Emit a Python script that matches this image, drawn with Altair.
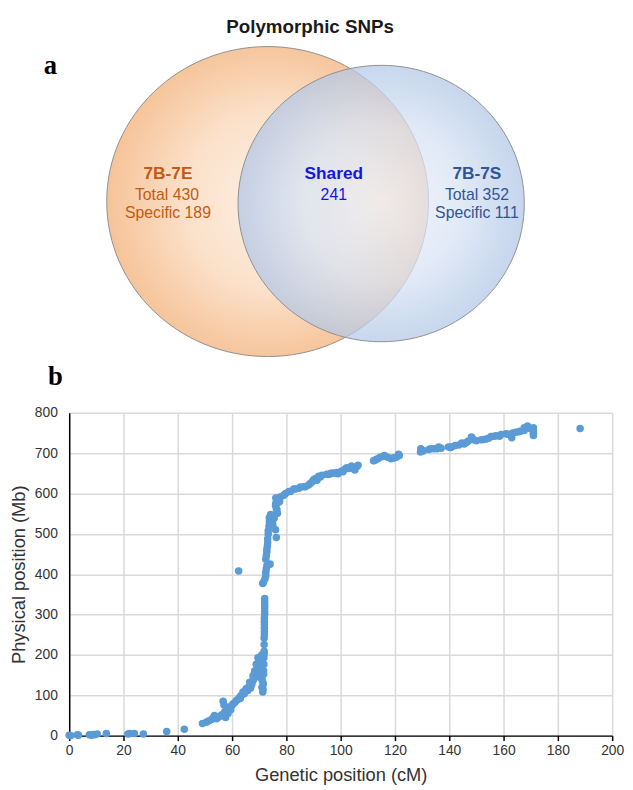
import altair as alt
import pandas as pd

# ---------------- data: scatter (genetic vs physical position) ----------------
gen_cm = [0, 0.5, 3.4, 3.0, 7.4, 8.2, 8.8, 9.4, 10.3, 13.7, 21.6, 22.3, 24, 27.3, 35.9, 42.4,
          49.1, 50.5, 51.3, 52.4, 53.1, 53.5, 54.3, 55.0, 55.5, 56.2, 56.7, 57.0, 57.3, 57.6, 58.0,
          58.5, 59.1, 59.5, 60.0, 60.4, 61.0, 61.6, 62.2, 62.8, 63.4, 64.0, 64.5, 65.2, 65.8, 66.5,
          67.0, 67.3, 67.7, 68.0, 68.3, 68.6, 68.9, 69.2, 69.5, 69.8, 70.1, 70.4, 70.7, 70.9, 71.0,
          71.3, 71.5, 71.6, 71.6, 71.7, 71.7, 71.8, 71.8, 71.8, 71.8, 71.9, 71.9, 71.9, 71.9, 71.9,
          71.9, 72.0, 72.0, 72.0, 72.0, 72.0, 72.0, 71.3, 71.6, 72.1, 72.4, 72.4, 72.6, 72.8, 74.0,
          72.4, 72.6, 72.8, 72.8, 73.0, 73.1, 73.1, 73.3, 73.3, 73.6, 73.7, 73.7, 74.9, 75.5, 76.3,
          76.0, 75.0, 76.7, 76.3, 76.0, 76.1, 76.1, 76.7, 77.9, 77.5, 79.1, 79.7, 80.9, 81.5, 82.7,
          83.4, 84.6, 85.2, 86.4, 87.0, 88.2, 89.5, 90.0, 90.7, 91.3, 91.9, 93.1, 94.9, 96.1, 96.7,
          98.5, 99.0, 100.3, 101.5, 102.2, 103.0, 104.0, 105.2, 105.8, 106.4, 112.1, 112.4, 113.7,
          115.5, 116.1, 117.3, 118.5, 119.2, 119.7, 120.5, 121.3, 121.6, 129.4, 129.5, 129.8, 132.5,
          133.1, 134.3, 135.5, 136.1, 139.7, 140.5, 142.2, 143.5, 144.6, 145.5, 146.4, 148.2, 148.2,
          149.0, 150.0, 151.8, 153.6, 154.5, 155.4, 157.3, 158.5, 159.1, 160.9, 162.0, 163.0, 163.4,
          164.5, 166.0, 167.6, 167.6, 168.8, 169.5, 170.2, 171.0, 171.0, 171.0, 171.0, 188.2,
          63.0, 64.8, 66.0, 66.8, 67.5, 68.2, 69.0, 69.6, 70.3, 70.5, 71.2, 71.4, 71.0,
          74.5, 75.2, 76.5, 77.0, 74.2,
          88.8, 92.5, 95.5, 97.5, 100.8, 103.5, 113.0, 114.5, 130.5, 137.0, 141.0, 147.0,
          152.5, 156.5, 161.5, 165.5, 169.0]
phys_mb = [1, 0, 1, 2, 2, 1, 3, 2, 4, 5, 4, 5, 5, 4, 10, 16,
           30, 33, 36, 40, 44, 50, 42, 46, 48, 52, 85, 76, 59, 45, 62,
           55, 71, 64, 75, 79, 82, 87, 90, 95, 100, 108, 104, 116, 112, 132,
           125, 128, 148, 140, 160, 150, 177, 168, 193, 182, 185, 144, 169, 200, 120,
           108, 128, 152, 161, 177, 193, 202, 209, 226, 242, 250, 258, 266, 275, 283,
           291, 300, 307, 316, 324, 332, 340, 377, 381, 389, 396, 405, 413, 421, 425,
           437, 446, 455, 462, 470, 478, 487, 499, 508, 519, 530, 540, 527, 539, 491,
           510, 520, 551, 562, 570, 576, 589, 588, 592, 580, 596, 600, 605, 605, 611,
           611, 613, 616, 617, 617, 621, 629, 634, 637, 633, 643, 645, 648, 649, 651,
           652, 649, 656, 660, 664, 662, 668, 658, 666, 670, 681, 682, 686,
           692, 694, 690, 686, 688, 688, 690, 697, 694, 703, 711, 706, 709,
           711, 711, 711, 715, 715, 714, 719, 720, 725, 723, 727, 740, 735,
           733, 731, 733, 735, 737, 741, 743, 742, 746, 748, 746, 738, 750,
           752, 754, 756, 763, 767, 762, 760, 763, 755, 748, 744, 761,
           92, 110, 120, 118, 135, 152, 160, 175, 160, 190, 135, 115, 145,
           535, 545, 560, 578, 548,
           625, 641, 647, 650, 654, 663, 684, 690, 706, 712, 716, 730,
           734, 742, 747, 753, 764]
outlier_cm = [62.4]
outlier_mb = [408]

x_ticks = [0, 20, 40, 60, 80, 100, 120, 140, 160, 180, 200]
y_ticks = [0, 100, 200, 300, 400, 500, 600, 700, 800]

# ---------------- data: Venn diagram ----------------
set_names = ["7B-7E", "Shared", "7B-7S"]
set_totals = ["Total 430", "241", "Total 352"]
set_specific = ["Specific 189", "Specific 111"]
set_colors = ["#C55A11", "#1414E6", "#2F5597"]

# ellipse layout (page pixel units)
ell_cx = [270, 385]
ell_cy = [198, 200]
ell_rx = [163, 145]
ell_ry = [157, 140]

FONT = "Liberation Sans"


def ellipse_path(rx, ry):
    s = max(rx, ry)
    a, b = rx / s, ry / s
    return (f"M {-a:.4f} 0 A {a:.4f} {b:.4f} 0 1 1 {a:.4f} 0 "
            f"A {a:.4f} {b:.4f} 0 1 1 {-a:.4f} 0 Z")


xs = alt.Scale(domain=[69, 619], nice=False, zero=False)
ys = alt.Scale(domain=[8, 412], nice=False, zero=False, reverse=True)

orange_grad = alt.RadialGradient(
    gradient="radial",
    stops=[alt.GradientStop(color="#FDF1E6", offset=0),
           alt.GradientStop(color="#FBE1CA", offset=0.55),
           alt.GradientStop(color="#F6C398", offset=1)],
    x1=0.55, y1=0.5, r1=0, x2=0.5, y2=0.5, r2=0.5)
blue_grad = alt.RadialGradient(
    gradient="radial",
    stops=[alt.GradientStop(color="#ECF1F9", offset=0),
           alt.GradientStop(color="#D6E2F3", offset=0.55),
           alt.GradientStop(color="#AFC5E6", offset=1)],
    x1=0.5, y1=0.5, r1=0, x2=0.5, y2=0.5, r2=0.5)

left_df = pd.DataFrame({"x": [ell_cx[0]], "y": [ell_cy[0]]})
right_df = pd.DataFrame({"x": [ell_cx[1]], "y": [ell_cy[1]]})

left_ell = alt.Chart(left_df).mark_point(
    shape=ellipse_path(ell_rx[0], ell_ry[0]), size=(2 * max(ell_rx[0], ell_ry[0])) ** 2,
    filled=True, fill=orange_grad, stroke="#8F8F8F", strokeWidth=1, opacity=1
).encode(x=alt.X("x:Q", scale=xs, axis=None), y=alt.Y("y:Q", scale=ys, axis=None))

right_ell = alt.Chart(right_df).mark_point(
    shape=ellipse_path(ell_rx[1], ell_ry[1]), size=(2 * max(ell_rx[1], ell_ry[1])) ** 2,
    filled=True, fill=blue_grad, fillOpacity=0.72, stroke="#8F8F8F", strokeWidth=1, opacity=1
).encode(x=alt.X("x:Q", scale=xs, axis=None), y=alt.Y("y:Q", scale=ys, axis=None))

head_df = pd.DataFrame({"t": set_names, "x": [169, 337, 482], "y": [170, 170, 170],
                        "c": set_colors})
heads = alt.Chart(head_df).mark_text(font=FONT, fontSize=17.5, fontWeight="bold",
                                     baseline="middle", align="center").encode(
    x=alt.X("x:Q", scale=xs, axis=None), y=alt.Y("y:Q", scale=ys, axis=None),
    text="t:N", color=alt.Color("c:N", scale=None))

sub_df = pd.DataFrame({
    "t": [set_totals[0], set_specific[0], set_totals[1], set_totals[2], set_specific[1]],
    "x": [168, 169, 337, 482, 482],
    "y": [191, 210, 191, 191, 210],
    "c": [set_colors[0], set_colors[0], set_colors[1], set_colors[2], set_colors[2]]})
subs = alt.Chart(sub_df).mark_text(font=FONT, fontSize=16, baseline="middle",
                                   align="center").encode(
    x=alt.X("x:Q", scale=xs, axis=None), y=alt.Y("y:Q", scale=ys, axis=None),
    text="t:N", color=alt.Color("c:N", scale=None))

title_df = pd.DataFrame({"t": ["Polymorphic SNPs"], "x": [313], "y": [21]})
title = alt.Chart(title_df).mark_text(font=FONT, fontSize=19, fontWeight="bold",
                                      baseline="middle", align="center",
                                      color="#1A1A1A").encode(
    x=alt.X("x:Q", scale=xs, axis=None), y=alt.Y("y:Q", scale=ys, axis=None), text="t:N")

panel_df = pd.DataFrame({"t": ["a", "b"], "x": [50, 55], "y": [69, 384]})
panels = alt.Chart(panel_df).mark_text(font="Liberation Serif", fontSize=27,
                                       fontWeight="bold", baseline="alphabetic",
                                       align="center", color="#000000").encode(
    x=alt.X("x:Q", scale=xs, axis=None), y=alt.Y("y:Q", scale=ys, axis=None), text="t:N")

venn = alt.layer(left_ell, right_ell, heads, subs, title, panels).properties(
    width=550, height=404)

# ---------------- scatter ----------------
scat_df = pd.DataFrame({"gen": gen_cm + outlier_cm, "phys": phys_mb + outlier_mb})

scatter = alt.Chart(scat_df).mark_circle(size=58, color="#5B9BD5", opacity=1).encode(
    x=alt.X("gen:Q", title="Genetic position (cM)",
            scale=alt.Scale(domain=[0, 200], nice=False, zero=False),
            axis=alt.Axis(values=x_ticks, tickSize=5, tickColor="#000000", tickWidth=1.5,
                          labelPadding=3, titlePadding=8, labelFlush=False)),
    y=alt.Y("phys:Q", title="Physical position (Mb)",
            scale=alt.Scale(domain=[0, 800], nice=False, zero=False),
            axis=alt.Axis(values=y_ticks, ticks=False, tickSize=0, labelPadding=12,
                          titlePadding=6, labelFlush=False)),
).properties(width=550, height=327)

chart = alt.vconcat(venn, scatter, spacing=0, bounds="flush").properties(
    padding={"left": 1, "top": 0, "right": 0, "bottom": 0}
).configure_view(stroke="transparent").configure_axis(
    gridColor="#D9D9D9", gridWidth=1.5, domainColor="#000000", domainWidth=1.5,
    labelFont=FONT, labelFontSize=14, labelColor="#333333",
    titleFont=FONT, titleFontSize=18.5, titleFontWeight="normal", titleColor="#333333"
)

chart.save("out.html", embed_options={"renderer": "svg", "actions": False})
